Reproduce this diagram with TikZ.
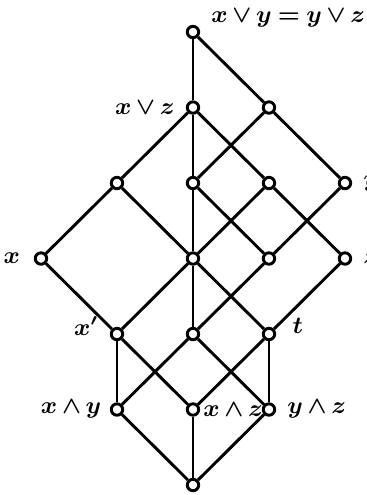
\documentclass[tikz,border=0pt]{standalone}
\usepackage{amsmath}
\usepackage{tikz}
\usetikzlibrary{positioning}

\newcommand\lblfont{\fontsize{9}{11}\selectfont\boldmath\medmuskip=3mu\relax\thickmuskip=4mu\relax}

\begin{document}
\begin{tikzpicture}[x=1cm, y=0.9934cm,
  vtx/.style={circle, draw, fill=white, line width=1.1pt, inner sep=0pt, minimum size=1.5mm},
  edge/.style={line width=1.1pt},
  lbl/.style={font=\lblfont, inner sep=2pt}
]
  \useasboundingbox (-0.539,-0.132) rectangle (4.289,6.424);

  % top part
  \node[vtx, label={[lbl, label distance=2pt, yshift=5pt]right:$x\vee y=y\vee z$}] (top) at (2,6) {};
  \node[vtx, label={[lbl, label distance=2pt]left:$x\vee z$}] (xvz) at (2,5) {};
  \node[vtx] (b) at (3,5) {};

  \node[vtx] (c1) at (1,4) {};
  \node[vtx] (c2) at (2,4) {};
  \node[vtx] (c3) at (3,4) {};
  \node[vtx, label={[lbl, label distance=2pt]right:$y$}] (y) at (4,4) {};

  \node[vtx, label={[lbl, label distance=3pt]left:$x$}] (x) at (0,3) {};
  \node[vtx] (m) at (2,3) {};
  \node[vtx] (d) at (3,3) {};
  \node[vtx, label={[lbl, label distance=2pt]right:$z$}] (z) at (4,3) {};

  % lower part
  \node[vtx, label={[lbl, label distance=2pt, yshift=3pt]left:$x'$}] (xp) at (1,2) {};
  \node[vtx] (e) at (2,2) {};
  \node[vtx, label={[lbl, label distance=4pt, yshift=3pt]right:$t$}] (t) at (3,2) {};

  \node[vtx, label={[lbl, label distance=1pt]left:$x\wedge y$}] (xy) at (1,1) {};
  \node[vtx, label={[lbl, label distance=-1pt]right:$x\wedge z$}] (xz) at (2,1) {};
  \node[vtx, label={[lbl, label distance=2pt]right:$y\wedge z$}] (yz) at (3,1) {};
  \node[vtx] (bot) at (2,0) {};

  \draw[edge] (top) -- (xvz);
  \draw[edge] (top) -- (b);
  \draw[edge] (xvz) -- (c1);
  \draw[edge] (xvz) -- (c2);
  \draw[edge] (xvz) -- (c3);
  \draw[edge] (b) -- (c2);
  \draw[edge] (b) -- (y);
  \draw[edge] (c1) -- (x);
  \draw[edge] (c1) -- (m);
  \draw[edge] (c2) -- (m);
  \draw[edge] (c2) -- (d);
  \draw[edge] (c3) -- (m);
  \draw[edge] (c3) -- (z);
  \draw[edge] (y) -- (d);
  \draw[edge] (x) -- (xp);
  \draw[edge] (m) -- (xp);
  \draw[edge] (m) -- (e);
  \draw[edge] (m) -- (t);
  \draw[edge] (d) -- (e);
  \draw[edge] (z) -- (t);
  \draw[edge] (xp) -- (xy);
  \draw[edge] (xp) -- (xz);
  \draw[edge] (e) -- (xy);
  \draw[edge] (e) -- (yz);
  \draw[edge] (t) -- (xz);
  \draw[edge] (t) -- (yz);
  \draw[edge] (xy) -- (bot);
  \draw[edge] (xz) -- (bot);
  \draw[edge] (yz) -- (bot);
\end{tikzpicture}
\end{document}
